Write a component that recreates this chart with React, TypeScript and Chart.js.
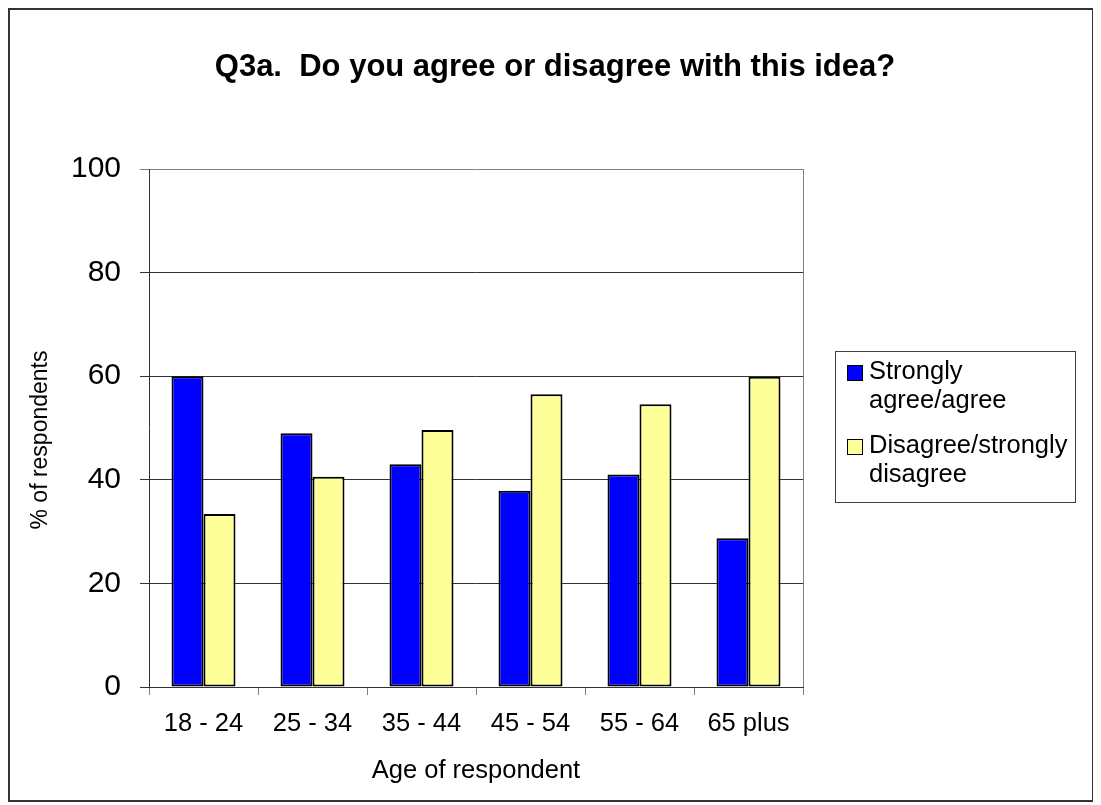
import React, { useEffect, useRef } from "react";
import { Chart, registerables } from "chart.js";

Chart.register(...registerables);

// ---- data ----
const categories = ["18 - 24", "25 - 34", "35 - 44", "45 - 54", "55 - 64", "65 plus"];
const agreeValues = [60, 49, 43, 37.9, 41, 28.7];
const disagreeValues = [33.4, 40.6, 49.6, 56.5, 54.6, 59.9];
const seriesNames = ["Strongly agree/agree", "Disagree/strongly disagree"];
const legendLines = [
  ["Strongly", "agree/agree"],
  ["Disagree/strongly", "disagree"],
];
const yTickValues = [0, 20, 40, 60, 80, 100];
const chartTitle = "Q3a.  Do you agree or disagree with this idea?";
const xAxisTitle = "Age of respondent";
const yAxisTitle = "% of respondents";

const FONT = "'Liberation Sans', Arial, Helvetica, sans-serif";
const W = 1086;
const H = 794;

// white page with a thin frame round the whole chart
const framePlugin = {
  id: "frame",
  beforeDraw(chart: any) {
    const { ctx, width, height } = chart;
    ctx.save();
    ctx.fillStyle = "#ffffff";
    ctx.fillRect(0, 0, width, height);
    ctx.strokeStyle = "#333333";
    ctx.lineWidth = 2;
    ctx.strokeRect(1, 1, width - 2, height - 2);
    ctx.restore();
  },
};

// heading centred over the whole canvas, the vertical axis title,
// and the grey right edge of the plot box
const headingPlugin = {
  id: "heading",
  afterDraw(chart: any) {
    const { ctx, width, chartArea } = chart;
    ctx.save();
    ctx.fillStyle = "#000000";
    ctx.font = `bold 31px ${FONT}`;
    ctx.textAlign = "center";
    ctx.textBaseline = "alphabetic";
    ctx.fillText(chartTitle, width / 2 + 4, 68);

    ctx.save();
    ctx.translate(33, (chartArea.top + chartArea.bottom) / 2 + 12);
    ctx.rotate(-Math.PI / 2);
    ctx.font = `23px ${FONT}`;
    ctx.textBaseline = "middle";
    ctx.fillText(yAxisTitle, 0, 0);
    ctx.restore();

    const rx = Math.round(chartArea.right) + 0.5;
    ctx.strokeStyle = "#808080";
    ctx.lineWidth = 1;
    ctx.beginPath();
    ctx.moveTo(rx, Math.round(chartArea.top));
    ctx.lineTo(rx, Math.round(chartArea.bottom));
    ctx.stroke();
    ctx.restore();
  },
};

// boxed legend to the right of the plot, with two-line entries
const sideLegendPlugin = {
  id: "sideLegend",
  afterDraw(chart: any) {
    const { ctx, chartArea } = chart;
    const left = Math.round(chartArea.right) + 32;
    const top = 343;
    const boxW = 240;
    const boxH = 151;
    ctx.save();
    ctx.strokeStyle = "#404040";
    ctx.lineWidth = 1;
    ctx.strokeRect(left + 0.5, top + 0.5, boxW, boxH);

    ctx.font = `25.5px ${FONT}`;
    ctx.textAlign = "left";
    ctx.textBaseline = "middle";
    const entryTops = [top + 21, top + 95];
    const lineGap = 29;
    chart.data.datasets.forEach((ds: any, i: number) => {
      const y0 = entryTops[i];
      ctx.fillStyle = ds.backgroundColor;
      ctx.fillRect(left + 12, y0 - 7, 16, 16);
      ctx.strokeStyle = "#000000";
      ctx.lineWidth = 1;
      ctx.strokeRect(left + 12.5, y0 - 6.5, 15, 15);
      ctx.fillStyle = "#000000";
      legendLines[i].forEach((line, j) => {
        ctx.fillText(line, left + 34, y0 + j * lineGap);
      });
    });
    ctx.restore();
  },
};

export default function App() {
  const canvasRef = useRef<HTMLCanvasElement | null>(null);

  useEffect(() => {
    if (!canvasRef.current) return;
    const chart = new Chart(canvasRef.current, {
      type: "bar",
      data: {
        labels: categories,
        datasets: [
          {
            label: seriesNames[0],
            data: agreeValues,
            backgroundColor: "#0000FF",
            borderColor: "#000000",
            borderWidth: 2,
            borderSkipped: false,
            categoryPercentage: 0.587,
            barPercentage: 1,
          },
          {
            label: seriesNames[1],
            data: disagreeValues,
            backgroundColor: "#FFFF99",
            borderColor: "#000000",
            borderWidth: 2,
            borderSkipped: false,
            categoryPercentage: 0.587,
            barPercentage: 1,
          },
        ],
      },
      options: {
        animation: false,
        responsive: false,
        devicePixelRatio: 1,
        layout: { padding: { left: 0, right: 291, top: 161, bottom: 0 } },
        plugins: {
          legend: { display: false },
          tooltip: { enabled: false },
          title: { display: false },
        },
        scales: {
          x: {
            grid: {
              offset: true,
              drawOnChartArea: false,
              drawTicks: true,
              tickLength: 8,
              color: "#808080",
            },
            border: { display: true, color: "#333333", width: 1 },
            ticks: {
              color: "#000000",
              font: { family: FONT, size: 25.5 },
              padding: 14,
              maxRotation: 0,
              autoSkip: false,
            },
            title: {
              display: true,
              text: xAxisTitle,
              color: "#000000",
              font: { family: FONT, size: 25.5 },
              padding: { top: 0, bottom: 16 },
            },
            afterFit: (scale: any) => {
              scale.height = 115;
            },
          },
          y: {
            min: 0,
            max: 100,
            afterBuildTicks: (scale: any) => {
              scale.ticks = yTickValues.map((v) => ({ value: v }));
            },
            ticks: {
              color: "#000000",
              font: { family: FONT, size: 30 },
              padding: 19,
            },
            grid: {
              color: (ctx: any) => (ctx.tick && ctx.tick.value === 100 ? "#808080" : "#333333"),
              lineWidth: 1,
              tickLength: 9,
            },
            border: { display: true, color: "#333333", width: 1 },
            title: { display: false },
            afterFit: (scale: any) => {
              scale.width = 141;
            },
          },
        },
      },
      plugins: [framePlugin, headingPlugin, sideLegendPlugin],
    } as any);
    return () => chart.destroy();
  }, []);

  return (
    <div style={{ width: W, height: H }}>
      <canvas ref={canvasRef} width={W} height={H} style={{ display: "block" }} />
    </div>
  );
}
